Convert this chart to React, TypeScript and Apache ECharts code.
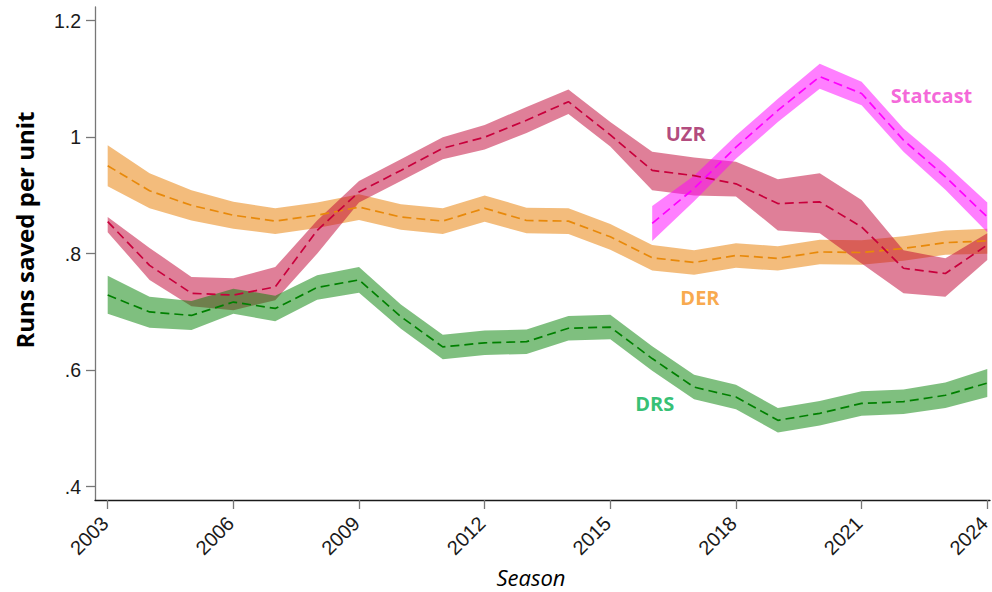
import React, { useEffect, useRef } from "react";
import * as echarts from "echarts";

const years = [2003, 2004, 2005, 2006, 2007, 2008, 2009, 2010, 2011, 2012, 2013, 2014, 2015, 2016, 2017, 2018, 2019, 2020, 2021, 2022, 2023, 2024];

const derMid = [0.951, 0.908, 0.883, 0.866, 0.856, 0.866, 0.880, 0.863, 0.856, 0.878, 0.857, 0.856, 0.829, 0.793, 0.785, 0.797, 0.792, 0.803, 0.802, 0.809, 0.819, 0.822];
const derLo = [0.916, 0.878, 0.857, 0.843, 0.834, 0.844, 0.858, 0.841, 0.834, 0.855, 0.835, 0.834, 0.807, 0.771, 0.764, 0.776, 0.771, 0.782, 0.781, 0.788, 0.798, 0.800];
const derHi = [0.986, 0.938, 0.909, 0.889, 0.878, 0.888, 0.902, 0.885, 0.878, 0.900, 0.879, 0.878, 0.851, 0.815, 0.806, 0.818, 0.813, 0.824, 0.823, 0.830, 0.840, 0.843];

const uzrMid = [0.855, 0.780, 0.732, 0.729, 0.743, 0.840, 0.906, 0.943, 0.981, 1.000, 1.029, 1.061, 1.004, 0.943, 0.934, 0.920, 0.886, 0.889, 0.846, 0.775, 0.766, 0.815];
const uzrLo = [0.837, 0.755, 0.710, 0.703, 0.720, 0.800, 0.888, 0.925, 0.962, 0.979, 1.007, 1.040, 0.984, 0.909, 0.900, 0.898, 0.840, 0.835, 0.783, 0.732, 0.726, 0.789];
const uzrHi = [0.863, 0.810, 0.760, 0.758, 0.777, 0.857, 0.925, 0.962, 1.000, 1.021, 1.052, 1.082, 1.026, 0.975, 0.965, 0.958, 0.928, 0.938, 0.892, 0.806, 0.792, 0.835];

const scYears = [2016, 2017, 2018, 2019, 2020, 2021, 2022, 2023, 2024];
const scMid = [0.852, 0.912, 0.983, 1.046, 1.104, 1.075, 0.995, 0.932, 0.863];
const scLo = [0.822, 0.890, 0.963, 1.026, 1.083, 1.055, 0.975, 0.910, 0.837];
const scHi = [0.882, 0.934, 1.003, 1.066, 1.126, 1.095, 1.015, 0.954, 0.888];

const drsMid = [0.729, 0.700, 0.694, 0.717, 0.706, 0.742, 0.755, 0.692, 0.640, 0.647, 0.649, 0.672, 0.674, 0.620, 0.571, 0.554, 0.514, 0.526, 0.543, 0.546, 0.557, 0.578];
const drsLo = [0.697, 0.673, 0.669, 0.697, 0.684, 0.721, 0.733, 0.671, 0.619, 0.626, 0.628, 0.651, 0.653, 0.599, 0.550, 0.533, 0.493, 0.505, 0.522, 0.525, 0.535, 0.554];
const drsHi = [0.762, 0.726, 0.719, 0.740, 0.728, 0.763, 0.777, 0.713, 0.661, 0.668, 0.670, 0.693, 0.695, 0.641, 0.592, 0.575, 0.535, 0.547, 0.564, 0.567, 0.579, 0.602];

const xTicks = [2003, 2006, 2009, 2012, 2015, 2018, 2021, 2024];
const yTicks = [0.4, 0.6, 0.8, 1.0, 1.2];

const seriesLabels = [
  { text: "UZR", at: [2016.8, 1.007], color: "#9e1a5c" },
  { text: "Statcast", at: [2022.67, 1.072], color: "#f23fcf" },
  { text: "DER", at: [2017.14, 0.724], color: "#f7931e" },
  { text: "DRS", at: [2016.06, 0.543], color: "#00b050" },
];

function band(name: string, xs: number[], lo: number[], hi: number[], fill: string) {
  return {
    type: "custom",
    name: name + " band",
    silent: true,
    data: [[xs[0], lo[0]]],
    renderItem: (_params: any, api: any) => {
      const pts: number[][] = [];
      for (let i = 0; i < xs.length; i++) pts.push(api.coord([xs[i], hi[i]]));
      for (let i = xs.length - 1; i >= 0; i--) pts.push(api.coord([xs[i], lo[i]]));
      return { type: "polygon", shape: { points: pts }, style: { fill } };
    },
  };
}

function line(name: string, xs: number[], ys: number[], color: string) {
  return {
    type: "line",
    name,
    silent: true,
    data: xs.map((x, i) => [x, ys[i]]),
    symbol: "none",
    lineStyle: { color, width: 1.7, type: [9, 5] },
  };
}

const fmtY = (v: number) => {
  const s = (Math.round(v * 10) / 10).toString();
  return s.startsWith("0.") ? s.slice(1) : s;
};

export default function App() {
  const ref = useRef<HTMLDivElement>(null);
  useEffect(() => {
    if (!ref.current) return;
    const chart = echarts.init(ref.current, undefined, { renderer: "svg" });
    chart.setOption({
      animation: false,
      backgroundColor: "#ffffff",
      grid: { left: 95, right: 2, top: 7, bottom: 92, outerBoundsMode: "none" },
      xAxis: {
        type: "value",
        min: 2002.697,
        max: 2024.065,
        splitLine: { show: false },
        axisLine: { show: true, lineStyle: { color: "#1a1a1a", width: 1.3 } },
        axisTick: { show: true, length: 9, lineStyle: { color: "#777777", width: 1.3 }, customValues: xTicks },
        axisLabel: {
          rotate: 45,
          margin: 17,
          fontSize: 20,
          fontFamily: "Liberation Sans, Arial, sans-serif",
          color: "#1a1a1a",
          padding: [0, 4, 0, 0],
          customValues: xTicks,
          formatter: (v: number) => String(Math.round(v)),
        },
      },
      yAxis: {
        type: "value",
        min: 0.3772,
        max: 1.2235,
        splitLine: { show: false },
        axisLine: { show: true, lineStyle: { color: "#777777", width: 1.3 } },
        axisTick: { show: true, length: 9, lineStyle: { color: "#777777", width: 1.3 }, customValues: yTicks },
        axisLabel: {
          margin: 14,
          fontSize: 19.5,
          fontFamily: "Liberation Sans, Arial, sans-serif",
          color: "#1a1a1a",
          customValues: yTicks,
          formatter: fmtY,
        },
      },
      graphic: [
        {
          type: "text",
          x: 24,
          y: 230,
          rotation: Math.PI / 2,
          style: {
            text: "Runs saved per unit",
            fontSize: 24,
            fontWeight: "bold",
            fontFamily: "Open Sans, sans-serif",
            fill: "#000000",
            align: "center",
            verticalAlign: "middle",
          },
        },
        {
          type: "text",
          x: 531,
          y: 577,
          style: {
            text: "Season",
            fontSize: 22,
            fontStyle: "italic",
            fontFamily: "Open Sans, sans-serif",
            fill: "#000000",
            align: "center",
            verticalAlign: "middle",
          },
        },
      ],
      series: [
        band("DER", years, derLo, derHi, "rgba(232,126,4,0.52)"),
        line("DER", years, derMid, "#e8890a"),
        band("UZR", years, uzrLo, uzrHi, "rgba(192,0,50,0.5)"),
        line("UZR", years, uzrMid, "#c8003c"),
        band("DRS", years, drsLo, drsHi, "rgba(0,128,0,0.5)"),
        line("DRS", years, drsMid, "#008000"),
        band("Statcast", scYears, scLo, scHi, "rgba(255,0,255,0.5)"),
        line("Statcast", scYears, scMid, "#ff00ff"),
        {
          type: "scatter",
          silent: true,
          symbolSize: 0,
          data: seriesLabels.map((l) => ({
            value: l.at,
            label: {
              show: true,
              position: "inside",
              formatter: l.text,
              color: l.color,
              fontSize: 20,
              fontWeight: "bold",
              fontFamily: "Open Sans, sans-serif",
            },
          })),
        },
      ],
    });
    return () => chart.dispose();
  }, []);
  return <div ref={ref} style={{ position: "absolute", left: 0, top: 0, width: 992, height: 592 }} />;
}
